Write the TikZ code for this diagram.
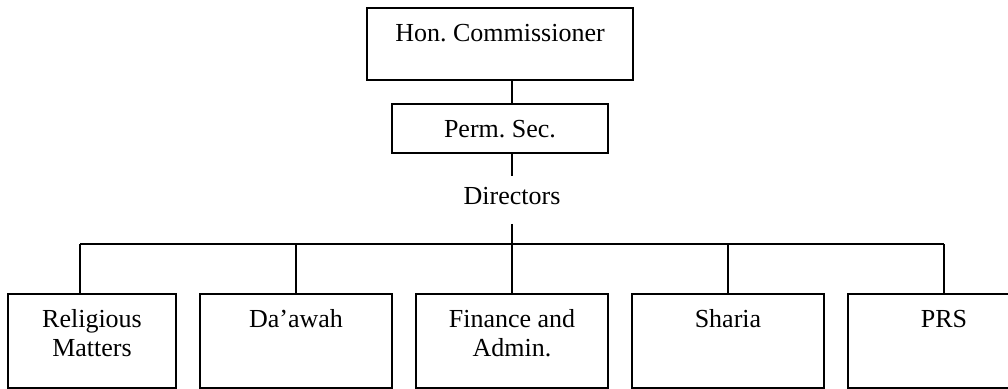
\documentclass[tikz,border=0pt]{standalone}
\usepackage{fontspec}
\setmainfont{Liberation Serif}
\usetikzlibrary{positioning}
\frenchspacing
\begin{document}
\begin{tikzpicture}[x=0.5pt,y=0.5pt,
  every node/.style={font=\fontsize{13}{14.5}\selectfont},
  unit/.style={draw, line width=0.8pt, anchor=north, align=center,
    inner xsep=2pt, inner ysep=0pt, text height=17pt}]
  \useasboundingbox (0,0) rectangle (1008,388);
  \node[unit, minimum width=133pt, text depth=19pt] (hon) at (500,381) {Hon. Commissioner};
  \node[unit, minimum width=108pt, text depth=7.5pt] (perm) at (500,285) {Perm. Sec.};
  \node[anchor=north, inner sep=0pt, text height=14pt, text depth=9.5pt] (dir) at (512,212) {Directors};
  \coordinate (bar) at (512,144);
  \draw[line width=0.8pt] (hon.south -| dir) -- (perm.north -| dir);
  \draw[line width=0.8pt] (perm.south -| dir) -- (dir.north);
  \draw[line width=0.8pt] (dir.south) -- (bar);
  % two-line labels sit on their last baseline
  \foreach \x/\dx/\w/\hgt/\dpt/\n/\t in {92/80/84/31.5/15.5/rel/{Religious\\Matters},
      296/296/96/17/30/daw/Da'awah, 512/512/96/31.5/15.5/fin/{Finance and\\Admin.},
      728/728/96/17/30/sha/Sharia, 944/944/96/17/30/prs/PRS} {
    \node[unit, minimum width=\w pt, text height=\hgt pt, text depth=\dpt pt] (\n) at (\x,95) {\t};
    \coordinate (top\n) at (\dx,144);
    \draw[line width=0.8pt] (top\n) -- (top\n |- \n.north);
  }
  \draw[line width=0.8pt] (toprel) -- (topprs);
\end{tikzpicture}
\end{document}
